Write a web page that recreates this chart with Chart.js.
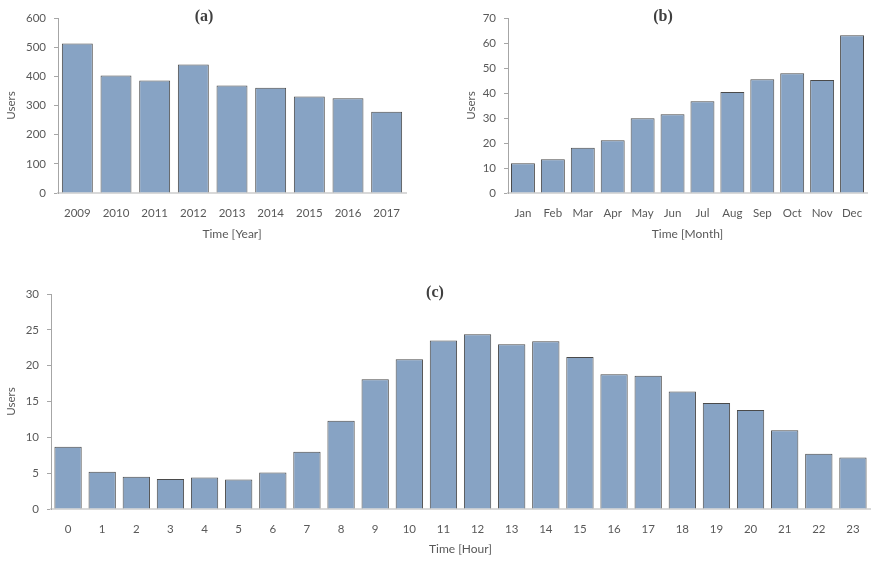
<!DOCTYPE html>
<html>
<head>
<meta charset="utf-8">
<title>Users over time</title>
<script src="https://cdn.jsdelivr.net/npm/chart.js@4.4.1/dist/chart.umd.min.js"></script>
<style>
  html, body { margin: 0; padding: 0; background: #fff; }
  body { width: 871px; height: 562px; position: relative; overflow: hidden; }
  .panel { position: absolute; }
  #panelA { left: 0; top: 0; }
  #panelB { left: 460px; top: 0; }
  #panelC { left: 0; top: 270px; }
</style>
</head>
<body>
<div class="panel" id="panelA"><canvas id="chartA" width="420" height="250"></canvas></div>
<div class="panel" id="panelB"><canvas id="chartB" width="411" height="250"></canvas></div>
<div class="panel" id="panelC"><canvas id="chartC" width="871" height="292"></canvas></div>
<script>
// (a) users per year
const years = ['2009', '2010', '2011', '2012', '2013', '2014', '2015', '2016', '2017'];
const yearUsers = [513, 403, 386, 441, 369, 361, 331, 325, 279];

// (b) users per month
const months = ['Jan', 'Feb', 'Mar', 'Apr', 'May', 'Jun', 'Jul', 'Aug', 'Sep', 'Oct', 'Nov', 'Dec'];
const monthUsers = [11.9, 13.5, 18.1, 21.1, 29.9, 31.5, 36.7, 40.4, 45.5, 47.9, 45.2, 63.1];

// (c) users per hour of day
const hours = ['0', '1', '2', '3', '4', '5', '6', '7', '8', '9', '10', '11',
               '12', '13', '14', '15', '16', '17', '18', '19', '20', '21', '22', '23'];
const hourUsers = [8.7, 5.2, 4.5, 4.2, 4.4, 4.1, 5.1, 8.0, 12.3, 18.1, 20.9, 23.5,
                   24.4, 23.0, 23.4, 21.2, 18.8, 18.6, 16.4, 14.8, 13.8, 11.0, 7.7, 7.2];

const FONT = "Lato, 'Open Sans', sans-serif";
const TEXT = '#595959';

// draws the bold "(a)" style label over the plot
const panelLabel = {
  id: 'panelLabel',
  afterDraw(chart, args, opts) {
    const ctx = chart.ctx;
    ctx.save();
    ctx.font = "bold 16px 'Liberation Serif', 'Times New Roman', serif";
    ctx.fillStyle = '#404040';
    ctx.textAlign = 'center';
    ctx.textBaseline = 'middle';
    ctx.fillText(opts.text, opts.x, opts.y);
    ctx.restore();
  }
};

function makeBarChart(canvasId, labels, data, cfg) {
  return new Chart(document.getElementById(canvasId), {
    type: 'bar',
    data: {
      labels,
      datasets: [{
        data,
        backgroundColor: '#87a3c4',
        borderColor: '#4a4a4a',
        borderWidth: 1,
        borderSkipped: 'start',
        barPercentage: 0.8,
        categoryPercentage: 1.0
      }]
    },
    plugins: [panelLabel],
    options: {
      responsive: false,
      animation: false,
      events: [],
      layout: { padding: { top: cfg.top, right: cfg.right, left: 0, bottom: 0 } },
      plugins: {
        legend: { display: false },
        tooltip: { enabled: false },
        panelLabel: cfg.label
      },
      scales: {
        x: {
          afterFit: s => { s.height = cfg.xHeight; },
          grid: { display: false },
          border: { display: true, color: '#d9d9d9', width: 2 },
          ticks: {
            color: TEXT, font: { family: FONT, size: 11.5 },
            padding: cfg.xPad, autoSkip: false, maxRotation: 0
          },
          title: {
            display: true, text: cfg.xTitle, color: TEXT,
            font: { family: FONT, size: 12 },
            padding: { top: 0, bottom: cfg.xTitlePad }
          }
        },
        y: {
          min: 0, max: cfg.max,
          afterFit: s => { s.width = cfg.yWidth; },
          grid: { drawOnChartArea: false, drawTicks: true, tickLength: 4, color: '#a6a6a6' },
          border: { display: true, color: '#a6a6a6', width: 1 },
          ticks: {
            stepSize: cfg.step, color: TEXT, font: { family: FONT, size: 11.5 }, padding: 8
          },
          title: {
            display: true, text: 'Users', color: TEXT,
            font: { family: FONT, size: 11.5 },
            padding: { top: cfg.yTitlePad, bottom: 0 }
          }
        }
      }
    }
  });
}

makeBarChart('chartA', years, yearUsers, {
  top: 18, right: 14, yWidth: 58, xHeight: 57, xPad: 5, xTitlePad: 9, yTitlePad: 4,
  max: 600, step: 100, xTitle: 'Time [Year]',
  label: { text: '(a)', x: 204, y: 17 }
});

makeBarChart('chartB', months, monthUsers, {
  top: 18, right: 4, yWidth: 48, xHeight: 57, xPad: 5, xTitlePad: 9, yTitlePad: 4,
  max: 70, step: 10, xTitle: 'Time [Month]',
  label: { text: '(b)', x: 203, y: 17 }
});

makeBarChart('chartC', hours, hourUsers, {
  top: 24, right: 1, yWidth: 51, xHeight: 53, xPad: 5, xTitlePad: 6, yTitlePad: 4,
  max: 30, step: 5, xTitle: 'Time [Hour]',
  label: { text: '(c)', x: 435, y: 23 }
});
</script>
</body>
</html>
